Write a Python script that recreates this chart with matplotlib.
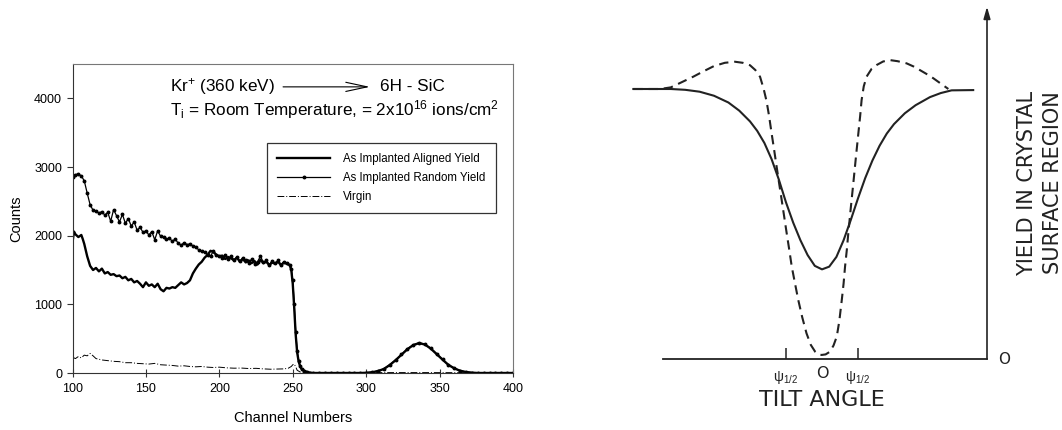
import numpy as np
import matplotlib
matplotlib.use("Agg")
import matplotlib.pyplot as plt

plt.rcParams["font.family"] = ["Liberation Sans", "DejaVu Sans"]
plt.rcParams["mathtext.fontset"] = "custom"
plt.rcParams["mathtext.rm"] = "Liberation Sans"
plt.rcParams["mathtext.default"] = "rm"

# --- RBS spectra (channel, counts) ---
random_ch = [100, 102, 104, 106, 108, 110, 112, 114, 116, 118, 120, 122, 124, 126, 128,
             130, 132, 134, 136, 138, 140, 142, 144, 146, 148, 150, 152, 154, 156, 158,
             160, 162, 164, 166, 168, 170, 172, 174, 176, 178, 180, 182, 184, 186, 188,
             190, 192, 194, 196, 198, 200, 202, 204, 206, 208, 210, 212, 214, 216, 218,
             220, 222, 224, 226, 228, 230, 232, 234, 236, 238, 240, 242, 244, 246, 248,
             249, 250, 251, 252, 253, 254, 255, 256, 258, 260, 262, 264, 268, 272, 276,
             280, 284, 288, 292, 296, 300, 304, 308, 312, 316, 320, 324, 328, 332, 336,
             340, 344, 348, 352, 356, 360, 364, 368, 372, 376, 380, 384, 388, 392, 396, 400]
random_counts = [2850, 2890, 2900, 2870, 2800, 2620, 2450, 2370, 2360, 2330, 2350, 2300, 2340, 2210, 2380,
                 2290, 2200, 2310, 2180, 2250, 2140, 2200, 2080, 2120, 2050, 2070, 2010, 2060, 1940, 2070,
                 1990, 1980, 1950, 1960, 1920, 1950, 1890, 1860, 1900, 1870, 1880, 1850, 1840, 1790, 1770,
                 1760, 1720, 1700, 1780, 1720, 1700, 1680, 1720, 1660, 1700, 1650, 1690, 1630, 1680, 1640,
                 1600, 1660, 1590, 1620, 1700, 1610, 1640, 1580, 1630, 1600, 1640, 1580, 1620, 1600, 1580,
                 1520, 1350, 1000, 600, 320, 180, 100, 60, 30, 15, 5, 0, 0, 0, 0,
                 0, 0, 0, 0, 2, 5, 12, 30, 60, 120, 190, 270, 350, 410, 440,
                 420, 360, 280, 200, 120, 70, 35, 15, 5, 0, 0, 0, 0, 0, 0, 0]

aligned_ch = [100, 101, 102, 104, 106, 107, 108, 110, 112, 114, 116, 118, 120, 122, 124,
              126, 128, 130, 132, 134, 136, 138, 140, 142, 144, 146, 148, 150, 152, 154,
              156, 158, 160, 162, 164, 166, 168, 170, 172, 174, 176, 178, 180, 182, 184,
              186, 188, 190, 192, 194, 196, 198, 200, 202, 204, 206, 208, 210, 212, 214,
              216, 218, 220, 222, 224, 226, 228, 230, 232, 234, 236, 238, 240, 242, 244,
              246, 248, 249, 250, 251, 252, 253, 254, 255, 256, 258, 260, 262, 264, 280,
              296, 300, 304, 308, 312, 316, 320, 324, 328, 332, 336, 340, 344, 348, 352,
              356, 360, 364, 368, 372, 376, 400]
aligned_counts = [1900, 2060, 2020, 1980, 2010, 1950, 1880, 1700, 1560, 1500, 1530, 1480, 1520, 1450, 1470,
                  1430, 1440, 1410, 1420, 1380, 1400, 1350, 1370, 1320, 1340, 1300, 1250, 1320, 1270, 1290,
                  1250, 1300, 1220, 1190, 1240, 1230, 1250, 1240, 1280, 1320, 1290, 1310, 1350, 1450, 1520,
                  1580, 1620, 1680, 1720, 1780, 1760, 1720, 1700, 1710, 1660, 1690, 1670, 1640, 1680, 1620,
                  1660, 1610, 1640, 1600, 1630, 1580, 1650, 1600, 1620, 1570, 1610, 1590, 1620, 1570, 1610,
                  1590, 1570, 1500, 1300, 950, 560, 300, 170, 100, 60, 30, 12, 3, 0, 0,
                  0, 3, 10, 28, 58, 115, 185, 265, 345, 405, 435, 415, 355, 275, 195,
                  118, 68, 32, 14, 5, 0, 0]

virgin_ch = [100, 102, 104, 106, 108, 110, 112, 114, 116, 118, 120, 124, 128, 132, 136,
             140, 144, 148, 152, 156, 160, 164, 168, 172, 176, 180, 184, 188, 192, 196,
             200, 205, 210, 215, 220, 225, 230, 235, 240, 244, 247, 249, 250, 251, 252,
             253, 255, 260, 270, 280, 300, 320, 340, 360, 380, 400]
virgin_counts = [230, 210, 240, 220, 260, 250, 285, 250, 210, 200, 190, 180, 170, 165, 150,
                 150, 140, 135, 130, 140, 120, 115, 110, 100, 105, 95, 90, 95, 85, 80,
                 85, 75, 70, 72, 65, 68, 60, 55, 58, 60, 70, 95, 120, 130, 90,
                 40, 15, 8, 5, 5, 5, 6, 6, 5, 4, 4]

# --- schematic angular scan (tilt angle in units of psi_1/2, normalised yield) ---
surface_angle = [-5.24, -4.2, -3.8, -3.4, -3.0, -2.6, -2.3, -2.0, -1.8, -1.6, -1.4, -1.2,
                 -1.0, -0.8, -0.6, -0.4, -0.2, 0.0, 0.2, 0.4, 0.6, 0.8, 1.0, 1.2, 1.4,
                 1.6, 1.8, 2.0, 2.3, 2.6, 3.0, 3.3, 3.6, 4.2]
surface_yield = [1.0, 1.0, 0.997, 0.99, 0.975, 0.95, 0.92, 0.88, 0.845, 0.80, 0.74, 0.665,
                 0.58, 0.505, 0.44, 0.385, 0.345, 0.332, 0.342, 0.378, 0.44, 0.515, 0.595, 0.67, 0.735,
                 0.79, 0.835, 0.87, 0.91, 0.94, 0.97, 0.985, 0.995, 0.996]

bulk_angle = [-5.24, -4.5, -4.2, -3.9, -3.57, -3.3, -3.0, -2.7, -2.42, -2.2, -2.0, -1.85,
              -1.72, -1.62, -1.54, -1.47, -1.40, -1.33, -1.26, -1.19, -1.12, -1.05, -0.98,
              -0.91, -0.84, -0.75, -0.66, -0.55, -0.43, -0.31, -0.19, -0.1, -0.01, 0.1,
              0.22, 0.32, 0.41, 0.48, 0.55, 0.6, 0.64, 0.69, 0.73, 0.80, 0.87, 0.94, 1.01,
              1.06, 1.10, 1.16, 1.24, 1.38, 1.52, 1.7, 1.89, 2.1, 2.35, 2.55, 2.72, 2.9,
              3.09, 3.3, 3.51]
bulk_yield = [1.0, 1.0, 1.006, 1.025, 1.046, 1.065, 1.085, 1.097, 1.101, 1.097, 1.088, 1.07,
              1.045, 1.0, 0.955, 0.9, 0.836, 0.775, 0.712, 0.65, 0.589, 0.527, 0.465,
              0.405, 0.342, 0.28, 0.219, 0.155, 0.095, 0.052, 0.027, 0.017, 0.015, 0.017,
              0.027, 0.05, 0.083, 0.14, 0.219, 0.28, 0.342, 0.405, 0.465, 0.56, 0.651, 0.745, 0.836,
              0.90, 0.959, 1.01, 1.046, 1.075, 1.089, 1.102, 1.107, 1.103, 1.095, 1.083, 1.070, 1.056,
              1.040, 1.02, 1.0]

psi_half = [-1.0, 1.0]

W, H = 1062, 430
fig = plt.figure(figsize=(W / 100, H / 100), dpi=100)

# left panel: spectra
ax = fig.add_axes([72.5 / W, (H - 373) / H, 440.5 / W, 309 / H])
ax.plot(aligned_ch, aligned_counts, color="black", lw=1.7, label="As Implanted Aligned Yield")
ax.plot(random_ch, random_counts, color="black", lw=0.9, marker="o", ms=1.8,
        label="As Implanted Random Yield")
ax.plot(virgin_ch, virgin_counts, color="black", lw=0.7, linestyle=(0, (7, 2, 1, 2)),
        label="Virgin")
ax.set_xlim(100, 400)
ax.set_ylim(0, 4500)
ax.set_xticks(range(100, 401, 50))
ax.set_yticks(range(0, 4001, 1000))
ax.tick_params(axis="both", labelsize=9, width=0.8, color="#333333")
ax.tick_params(axis="x", direction="inout", length=6, pad=4)
ax.tick_params(axis="y", direction="out", length=4)
for side in ("top", "right"):
    ax.spines[side].set_color("#777777")
for side in ("left", "bottom"):
    ax.spines[side].set_color("#333333")
ax.set_xlabel("Channel Numbers", fontsize=10.5, labelpad=12)
ax.set_ylabel("Counts", fontsize=10.5, labelpad=8)

leg = ax.legend(loc="upper left", bbox_to_anchor=(0.441, 0.745), fontsize=8.3,
                frameon=True, fancybox=False, edgecolor="black", handlelength=4.6,
                handletextpad=1.1, borderpad=0.9, labelspacing=0.6, borderaxespad=0)
leg.get_frame().set_linewidth(0.9)

ax.text(0.221, 0.926, "Kr$^{+}$ (360 keV)", transform=ax.transAxes, fontsize=12.3,
        va="center", ha="left")
ax.annotate("", xy=(0.675, 0.926), xytext=(0.478, 0.926), xycoords="axes fraction",
            arrowprops=dict(arrowstyle="->,head_length=1.4,head_width=0.3", lw=0.8,
                            color="black", shrinkA=0, shrinkB=0), fontsize=11)
ax.text(0.698, 0.926, "6H - SiC", transform=ax.transAxes, fontsize=12.3,
        va="center", ha="left")
ax.text(0.221, 0.851, "T$_{\\mathrm{i}}$ = Room Temperature, = 2x10$^{16}$ ions/cm$^{2}$",
        transform=ax.transAxes, fontsize=12.3, va="center", ha="left")

# right panel: schematic
ink = "#222222"
bx = fig.add_axes([600 / W, 0, 462 / W, 1])
bx.set_xlim((600 - 822) / 36, (1062 - 822) / 36)
bx.set_ylim((359 - 430) / 270, 359 / 270)
bx.axis("off")

bx.plot(surface_angle, surface_yield, color=ink, lw=1.5)
bx.plot(bulk_angle, bulk_yield, color=ink, lw=1.5, linestyle=(0, (4.5, 2.8)))

x_left, x_axis = (663 - 822) / 36, (987 - 822) / 36
bx.plot([x_left, x_axis], [0, 0], color=ink, lw=1.3)
bx.annotate("", xy=(x_axis, 1.305), xytext=(x_axis, 0),
            arrowprops=dict(arrowstyle="-|>,head_length=0.7,head_width=0.2",
                            color=ink, lw=1.2, shrinkA=0, shrinkB=0), fontsize=10)
bx.vlines(psi_half, 0, 0.04, color=ink, lw=1.1)
for a in psi_half:
    bx.text(a, -0.07, r"$\psi_{1/2}$", ha="center", va="center", fontsize=10,
            color=ink, family="DejaVu Sans")
bx.text(0, -0.052, "O", ha="center", va="center", fontsize=11.5, color=ink, family="DejaVu Sans")
bx.text(0, -0.152, "TILT ANGLE", ha="center", va="center", fontsize=16, color=ink,
        family="DejaVu Sans")
bx.text(x_axis + 0.3, 0, "O", ha="left", va="center", fontsize=11, color=ink,
        family="DejaVu Sans")
bx.text((1027 - 822) / 36, 0.652, "YIELD IN CRYSTAL", rotation=90, ha="center",
        va="center", fontsize=15, color=ink, family="DejaVu Sans")
bx.text((1053 - 822) / 36, 0.652, "SURFACE REGION", rotation=90, ha="center",
        va="center", fontsize=15, color=ink, family="DejaVu Sans")

fig.savefig("out.png", dpi=100)
